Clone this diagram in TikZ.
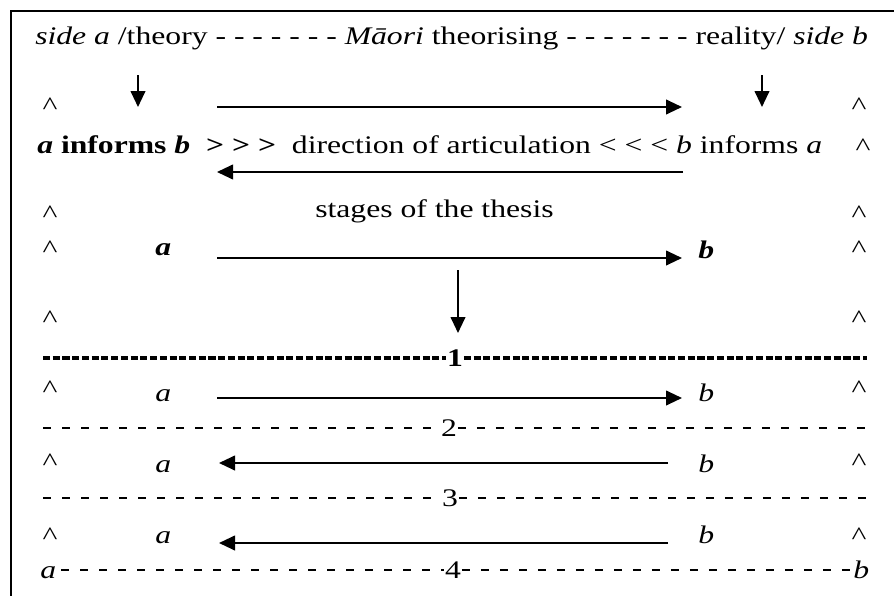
\documentclass[tikz,border=0pt]{standalone}
\usepackage{fontspec}
\setmainfont{Liberation Serif}[FakeStretch=1.25]
\usetikzlibrary{arrows.meta}
\begin{document}
\begin{tikzpicture}[x=0.75pt,y=-0.75pt,
  txt/.style={inner sep=0pt, anchor=base west, font=\fontsize{19}{22}\selectfont},
  num/.style={inner sep=0.5pt, anchor=base, font=\fontsize{19}{22}\selectfont},
  caretst/.style={inner sep=0pt, anchor=base, font=\fontsize{19}{22}\selectfont, yshift=-9pt},
  arr/.style={line width=1.5pt, -{Triangle[length=12pt,width=11pt]}},
  dl/.style={line width=0.9pt, dash pattern=on 6pt off 8.25pt},
  bdl/.style={line width=2.6pt, dash pattern=on 5.3pt off 2pt}]
\useasboundingbox (0,0) rectangle (894,596);
\draw[line width=1pt] (11,596) -- (11,11) -- (894,11);

% row 1
\node[txt] (r1) at (35,45) {\textit{side a} /theory - - - - - - - \textit{Māori} theorising - - - - - - - reality/ \textit{side b}};
% row 2 arrows
\coordinate (da1) at (138,75); \coordinate (da1e) at (138,107);
\coordinate (db1) at (762,75); \coordinate (db1e) at (762,107);
\draw[arr] (da1) -- (da1e);
\draw[arr] (db1) -- (db1e);
\coordinate (ra) at (217,107); \coordinate (rb) at (682,107);
\draw[arr] (ra) -- (rb);
% row 3
\node[txt] (r3) at (37,153) {\textbf{\textit{a} informs \textit{b}} \ \textbf{> > >} \ direction of articulation < < < \textit{b} informs \textit{a}};
\coordinate (la) at (683,172); \coordinate (lb) at (217,172);
\draw[arr] (la) -- (lb);
% stages
\node[txt] (st) at (315,217) {stages of the thesis};
\node[txt] (sa) at (155,255) {\textbf{\textit{a}}};
\node[txt] (sb) at (698,258) {\textbf{\textit{b}}};
\coordinate (s1) at (217,258); \coordinate (s2) at (682,258);
\draw[arr] (s1) -- (s2);
\coordinate (dd1) at (458,270); \coordinate (dd2) at (458,333);
\draw[arr] (dd1) -- (dd2);
% dashed 1
\node[num] (one) at (455,366) {\textbf{1}};
\coordinate (d1l) at (43,358); \coordinate (d1r) at (867,358);
\draw[bdl] (d1l) -- (d1l -| one.west);
\draw[bdl] (one.east |- d1r) -- (d1r);
% stage 1 row
\node[txt] (a1) at (155,401) {\textit{a}};
\node[txt] (b1) at (698,401) {\textit{b}};
\coordinate (p1) at (217,398); \coordinate (q1) at (682,398);
\draw[arr] (p1) -- (q1);
% dashed 2
\node[num] (two) at (449,436) {2};
\coordinate (d2l) at (43,428); \coordinate (d2r) at (867,428);
\draw[dl] (d2l) -- (d2l -| two.west);
\draw[dl] (two.east |- d2r) -- (d2r);
% stage 2 row
\node[txt] (a2) at (155,472) {\textit{a}};
\node[txt] (b2) at (698,472) {\textit{b}};
\coordinate (p2) at (668,463); \coordinate (q2) at (219,463);
\draw[arr] (p2) -- (q2);
% dashed 3
\node[num] (three) at (450,506) {3};
\coordinate (d3l) at (43,498); \coordinate (d3r) at (867,498);
\draw[dl] (d3l) -- (d3l -| three.west);
\draw[dl] (three.east |- d3r) -- (d3r);
% stage 3 row
\node[txt] (a3) at (155,543) {\textit{a}};
\node[txt] (b3) at (698,543) {\textit{b}};
\coordinate (p3) at (668,543); \coordinate (q3) at (219,543);
\draw[arr] (p3) -- (q3);
% row 4
\node[txt] (a4) at (40,578) {\textit{a}};
\node[txt] (b4) at (853,578) {\textit{b}};
\node[num] (four) at (453,578) {4};
\coordinate (d4) at (0,570);
\draw[dl] (a4.east |- d4) ++(5,0) -- (four.west |- d4);
\draw[dl] (four.east |- d4) -- ([xshift=-2pt]b4.west |- d4);
% carets
\foreach \x/\y/\n in {50/102/1,859/102/2,863/143/3,50/210/4,859/210/5,50/245/6,859/245/7,50/315/8,859/315/9,50/385/10,859/385/11,50/458/12,859/458/13,50/532/14,859/532/15}
  \node[caretst] (c\n) at (\x,\y) {\textasciicircum};
\end{tikzpicture}
\end{document}
